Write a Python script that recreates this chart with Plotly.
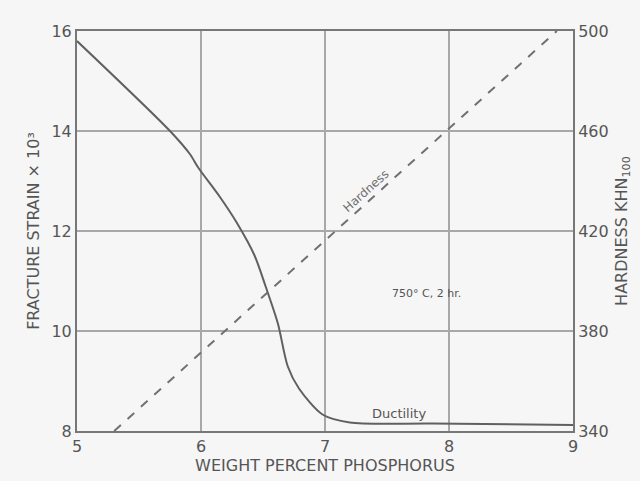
import plotly.graph_objects as go

# Ductility (fracture strain x 10^3) vs weight percent phosphorus
duct_x = [5.0, 5.75, 5.91, 5.98, 6.15, 6.29, 6.43, 6.52, 6.62, 6.70, 6.79, 6.98, 7.2, 7.86, 9.0]
duct_y = [15.8, 14.0, 13.54, 13.26, 12.69, 12.16, 11.52, 10.9, 10.15, 9.29, 8.85, 8.33, 8.17, 8.15, 8.12]

# Hardness (KHN100) vs weight percent phosphorus
hard_x = [5.3, 8.87]
hard_y = [340, 500]

x_ticks = [5, 6, 7, 8, 9]
left_ticks = [8, 10, 12, 14, 16]
left_labels = ["8", "10", "12", "14", "16"]
right_ticks = [340, 380, 420, 460, 500]

ink = "#555555"
grid = "#a8a8a8"
font = "DejaVu Sans"
bg = "#f6f6f6"

fig = go.Figure()
fig.add_trace(go.Scatter(x=duct_x, y=duct_y, mode="lines",
                         line=dict(color="#606060", width=2, shape="spline", smoothing=0.8),
                         showlegend=False, yaxis="y"))
fig.add_trace(go.Scatter(x=hard_x, y=hard_y, mode="lines",
                         line=dict(color="#707070", width=2, dash="dash"),
                         showlegend=False, yaxis="y2"))

fig.add_annotation(x=7.33, y=12.8, xref="x", yref="y", text="Hardness", showarrow=False,
                   textangle=-42, font=dict(family=font, size=12, color="#707070"))
fig.add_annotation(x=7.82, y=10.75, xref="x", yref="y", text="750° C, 2 hr.", showarrow=False,
                   font=dict(family=font, size=11, color=ink))
fig.add_annotation(x=7.6, y=8.35, xref="x", yref="y", text="Ductility", showarrow=False,
                   font=dict(family=font, size=13, color=ink))

axis_common = dict(showgrid=True, gridcolor=grid, gridwidth=1.5, showline=True,
                   linecolor="#777777", linewidth=2, ticks="",
                   tickfont=dict(family=font, size=16, color=ink), zeroline=False)

fig.update_layout(
    width=640, height=481,
    paper_bgcolor=bg, plot_bgcolor=bg,
    margin=dict(l=77, r=66, t=31, b=47),
    xaxis=dict(range=[5, 9], tickvals=x_ticks, mirror=True,
               title=dict(text="WEIGHT PERCENT PHOSPHORUS", standoff=2,
                          font=dict(family=font, size=16, color=ink)),
               **axis_common),
    yaxis=dict(range=[8, 16], tickvals=left_ticks, ticktext=left_labels,
               title=dict(text="FRACTURE STRAIN × 10³", standoff=8,
                          font=dict(family=font, size=16, color=ink)),
               **axis_common),
    yaxis2=dict(range=[340, 500], tickvals=right_ticks, overlaying="y", side="right",
                showgrid=False, showline=True, linecolor="#777777", linewidth=2, ticks="",
                zeroline=False, tickfont=dict(family=font, size=16, color=ink),
                title=dict(text="HARDNESS KHN<sub>100</sub>", standoff=8,
                           font=dict(family=font, size=16, color=ink))),
)

fig.write_html("out.html", config={"displayModeBar": False},
               post_script="document.body.style.margin='0';document.body.style.background='%s';" % bg)
